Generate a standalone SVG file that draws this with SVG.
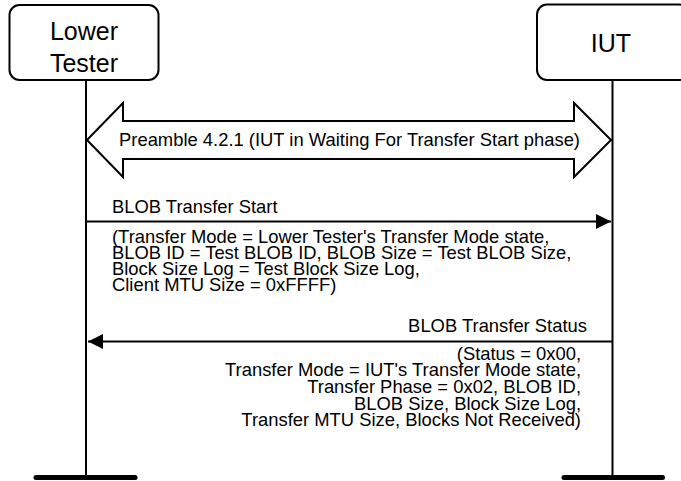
<svg xmlns="http://www.w3.org/2000/svg" width="681" height="481" viewBox="0 0 681 481">
<style>
.box{fill:#fff;stroke:#000;stroke-width:2}
.life{stroke:#000;stroke-width:2;fill:none}
.bar{stroke:#000;stroke-width:5;stroke-linecap:round}
.t{font-family:"Liberation Sans",Arial,sans-serif;fill:#000}
.big{font-size:25px}
.s{font-size:18.4px}
.msg{stroke:#000;stroke-width:2;fill:none}
</style>
<defs>
<marker id="ah" markerWidth="16" markerHeight="16" refX="15" refY="7.5" orient="auto" markerUnits="userSpaceOnUse">
<path d="M0,0 L15,7.5 L0,15 Z" fill="#000"/>
</marker>
</defs>
<g id="lifelines">
<line class="life" x1="86" y1="80" x2="86" y2="477.5"/>
<line class="life" x1="612.5" y1="80" x2="612.5" y2="477.5"/>
<line class="bar" x1="36" y1="477.5" x2="135" y2="477.5"/>
<line class="bar" x1="564" y1="477.5" x2="662.5" y2="477.5"/>
</g>
<g id="lower-tester">
<rect class="box" x="9.5" y="5" width="149" height="75" rx="10"/>
<text class="t big" x="84" y="40" text-anchor="middle">Lower</text>
<text class="t big" x="84" y="71.5" text-anchor="middle">Tester</text>
</g>
<g id="iut">
<rect class="box" x="537" y="4.5" width="152" height="75.5" rx="10"/>
<text class="t big" x="611" y="51.5" text-anchor="middle">IUT</text>
</g>
<g id="preamble">
<polygon class="box" points="87,140 123,103 123,121 574,121 574,103 611,140 574,177 574,159 123,159 123,177"/>
<text class="t s" x="349.5" y="145.5" text-anchor="middle">Preamble 4.2.1 (IUT in Waiting For Transfer Start phase)</text>
</g>
<g id="connectors">
<line class="msg" x1="86" y1="221.5" x2="611" y2="221.5" marker-end="url(#ah)"/>
<line class="msg" x1="612.5" y1="341.5" x2="88" y2="341.5" marker-end="url(#ah)"/>
</g>
<g id="msg-start">
<text class="t s" x="112" y="213">BLOB Transfer Start</text>
<text class="t s" x="112" y="242.5">(Transfer Mode = Lower Tester's Transfer Mode state,</text>
<text class="t s" x="112" y="258.8">BLOB ID = Test BLOB ID, BLOB Size = Test BLOB Size,</text>
<text class="t s" x="112" y="275.1">Block Size Log = Test Block Size Log,</text>
<text class="t s" x="112" y="291.4">Client MTU Size = 0xFFFF)</text>
</g>
<g id="msg-status">
<text class="t s" x="587" y="332" text-anchor="end">BLOB Transfer Status</text>
<text class="t s" x="581" y="359.6" text-anchor="end">(Status = 0x00,</text>
<text class="t s" x="581" y="376.3" text-anchor="end">Transfer Mode = IUT's Transfer Mode state,</text>
<text class="t s" x="581" y="393" text-anchor="end">Transfer Phase = 0x02, BLOB ID,</text>
<text class="t s" x="581" y="409.7" text-anchor="end">BLOB Size, Block Size Log,</text>
<text class="t s" x="581" y="426.4" text-anchor="end">Transfer MTU Size, Blocks Not Received)</text>
</g>
</svg>
